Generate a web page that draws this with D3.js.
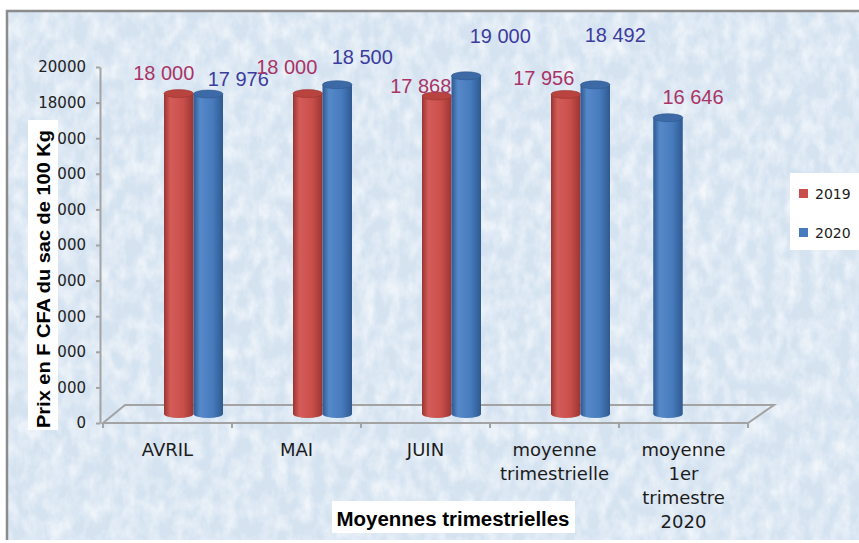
<!DOCTYPE html>
<html>
<head>
<meta charset="utf-8">
<script src="https://cdn.jsdelivr.net/npm/d3@7"></script>
<style>
  html, body { margin: 0; padding: 0; background: #fff; }
  svg { display: block; }
</style>
</head>
<body>
<div id="chart"></div>
<script>
// data
const categories = ["AVRIL", "MAI", "JUIN", "moyenne\ntrimestrielle", "moyenne\n1er\ntrimestre\n2020"];
const seriesNames = ["2019", "2020"];
const values2019 = [18000, 18000, 17868, 17956, null];
const values2020 = [17976, 18500, 19000, 18492, 16646];
const yTicks = [0, 2000, 4000, 6000, 8000, 10000, 12000, 14000, 16000, 18000, 20000];

// where Excel's labels were dragged to, relative to the top of their bar
const labelNudge2019 = [[-15, -14], [-21, -20], [-16, -3], [-22, -9], null];
const labelNudge2020 = [[30, -8], [25, -21], [34, -33], [20, -43], [25, -14]];

const W = 859, H = 543;
const depth = { dx: 22, dy: -18 };
const barW = 29.5, ry = 4;

const colors = {
  "2019": { base: "#c94f4b", dark: "#9a3532", light: "#d45c58", top: "#b8433f", label: "#a93466" },
  "2020": { base: "#477bbd", dark: "#2f5990", light: "#5689c9", top: "#3d6aa6", label: "#3c3c9e" }
};

const fmt = d3.formatLocale({ decimal: ",", thousands: " ", grouping: [3], currency: ["", ""] }).format(",");

const svg = d3.select("#chart").append("svg")
  .attr("width", W).attr("height", H);

const defs = svg.append("defs");

// mottled paper look of the chart background
const mottle = defs.append("filter").attr("id", "mottle")
  .attr("x", 0).attr("y", 0).attr("width", "100%").attr("height", "100%");
mottle.append("feTurbulence").attr("type", "fractalNoise")
  .attr("baseFrequency", "0.08 0.05").attr("numOctaves", 4).attr("seed", 11);
mottle.append("feColorMatrix").attr("type", "matrix")
  .attr("values", "0 0 0 0 1  0 0 0 0 1  0 0 0 0 1  1.6 0 0 0 -0.55");

seriesNames.forEach((s) => {
  const g = defs.append("linearGradient").attr("id", "cyl" + s)
    .attr("x1", 0).attr("x2", 1).attr("y1", 0).attr("y2", 0);
  g.append("stop").attr("offset", "0%").attr("stop-color", colors[s].dark);
  g.append("stop").attr("offset", "22%").attr("stop-color", colors[s].light);
  g.append("stop").attr("offset", "65%").attr("stop-color", colors[s].base);
  g.append("stop").attr("offset", "100%").attr("stop-color", colors[s].dark);
});

// background panel
svg.append("rect").attr("x", 7).attr("y", 11).attr("width", W).attr("height", 529)
  .attr("fill", "#d5e3f1");
svg.append("rect").attr("x", 7).attr("y", 11).attr("width", W).attr("height", 529)
  .attr("fill", "#fff").attr("filter", "url(#mottle)").attr("opacity", 0.75);
svg.append("path")
  .attr("d", `M7,540 V11 H${W}`)
  .attr("fill", "none").attr("stroke", "#8c8c8c").attr("stroke-width", 2.5);

// scales
const x = d3.scaleBand().domain(d3.range(categories.length)).range([103, 748]).padding(0);
const y = d3.scaleLinear().domain([0, 20000]).range([423, 67]);

// floor
const fx0 = x.range()[0], fx1 = x.range()[1], fy = y(0);
svg.append("path")
  .attr("d", `M${fx0},${fy} L${fx0 + depth.dx},${fy + depth.dy} L${fx1 + depth.dx + 4},${fy + depth.dy} L${fx1},${fy} Z`)
  .attr("fill", "none").attr("stroke", "#a3a3a3").attr("stroke-width", 2);

// category boundary ticks
svg.append("g").selectAll("line")
  .data(d3.range(categories.length + 1))
  .join("line")
  .attr("x1", (i) => fx0 + i * x.step())
  .attr("x2", (i) => fx0 + i * x.step())
  .attr("y1", fy).attr("y2", fy + 5)
  .attr("stroke", "#a3a3a3").attr("stroke-width", 2);

// y axis
const yAxis = svg.append("g")
  .attr("transform", "translate(100,0)")
  .call(d3.axisLeft(y).tickValues(yTicks).tickSizeInner(4).tickSizeOuter(0).tickPadding(10).tickFormat(d3.format("d")));
yAxis.select(".domain").attr("stroke", "#a3a3a3").attr("stroke-width", 2);
yAxis.selectAll(".tick line").attr("stroke", "#a3a3a3").attr("stroke-width", 2);
yAxis.selectAll(".tick text")
  .attr("fill", "#222")
  .style("font-family", "'DejaVu Sans', sans-serif")
  .style("font-size", "15px");

// bars
const bars = [];
categories.forEach((c, i) => {
  const vals = [values2019[i], values2020[i]];
  const present = seriesNames.filter((s, k) => vals[k] != null);
  const pair = present.length === 2;
  const center = x(i) + x.bandwidth() / 2 + (pair ? 26 : -15.5);
  present.forEach((s, k) => {
    const v = s === "2019" ? values2019[i] : values2020[i];
    const nudge = s === "2019" ? labelNudge2019[i] : labelNudge2020[i];
    const x0 = center - (present.length * barW) / 2 + k * barW;
    bars.push({ cat: i, series: s, value: v, x0, nudge, lone: !pair });
  });
});

const shift = depth.dy / 2; // bars stand halfway back on the floor
const barG = svg.append("g");
const cyl = barG.selectAll("g").data(bars).join("g");
cyl.append("path")
  .attr("d", (d) => {
    const yt = y(d.value) + shift, yb = y(0) + shift;
    return `M${d.x0},${yt} L${d.x0},${yb} A${barW / 2},${ry} 0 0 0 ${d.x0 + barW},${yb} L${d.x0 + barW},${yt} Z`;
  })
  .attr("fill", (d) => `url(#cyl${d.series})`);
cyl.append("ellipse")
  .attr("cx", (d) => d.x0 + barW / 2)
  .attr("cy", (d) => y(d.value) + shift)
  .attr("rx", barW / 2).attr("ry", ry)
  .attr("fill", (d) => colors[d.series].top)
  .attr("stroke", (d) => colors[d.series].dark).attr("stroke-width", 0.6);

// data labels
svg.append("g").selectAll("text")
  .data(bars)
  .join("text")
  .attr("x", (d) => d.x0 + barW / 2 + d.nudge[0])
  .attr("y", (d) => y(d.value) + shift + d.nudge[1])
  .attr("text-anchor", "middle")
  .attr("fill", (d) => d.lone ? colors["2019"].label : colors[d.series].label)
  .style("font-family", "'Liberation Sans', Arial, sans-serif")
  .style("font-size", "20px")
  .text((d) => fmt(d.value));

// category labels
const catG = svg.append("g").selectAll("text")
  .data(categories)
  .join("text")
  .attr("text-anchor", "middle")
  .attr("fill", "#1c1c1c")
  .style("font-family", "'DejaVu Sans', sans-serif")
  .style("font-size", "18px");
catG.selectAll("tspan")
  .data((d, i) => d.split("\n").map((t) => ({ t, i })))
  .join("tspan")
  .attr("x", (d) => x(d.i) + x.bandwidth() / 2)
  .attr("y", (d, j) => 456 + j * 24)
  .text((d) => d.t);

// axis titles on white boxes
svg.append("rect").attr("x", 28).attr("y", 120).attr("width", 30).attr("height", 310).attr("fill", "#fff");
svg.append("text")
  .attr("transform", "translate(50,279) rotate(-90)")
  .attr("text-anchor", "middle")
  .attr("textLength", 298).attr("lengthAdjust", "spacingAndGlyphs")
  .attr("fill", "#000")
  .style("font-family", "'Liberation Sans', Arial, sans-serif")
  .style("font-weight", "bold")
  .style("font-size", "19px")
  .text("Prix en F CFA du sac de 100 Kg");

svg.append("rect").attr("x", 332).attr("y", 501).attr("width", 243).attr("height", 32).attr("fill", "#fff");
svg.append("text")
  .attr("x", 453).attr("y", 526)
  .attr("text-anchor", "middle")
  .attr("textLength", 233).attr("lengthAdjust", "spacingAndGlyphs")
  .attr("fill", "#000")
  .style("font-family", "'Liberation Sans', Arial, sans-serif")
  .style("font-weight", "bold")
  .style("font-size", "20px")
  .text("Moyennes trimestrielles");

// legend
const legend = svg.append("g").attr("transform", "translate(790,173)");
legend.append("rect").attr("width", 75).attr("height", 77).attr("fill", "#fff");
const li = legend.selectAll("g").data(seriesNames).join("g")
  .attr("transform", (d, i) => `translate(9,${16 + i * 39})`);
li.append("rect").attr("width", 9).attr("height", 9).attr("fill", (d) => colors[d].base);
li.append("text").attr("x", 16).attr("y", 10)
  .attr("fill", "#1c1c1c")
  .style("font-family", "'DejaVu Sans', sans-serif")
  .style("font-size", "14px")
  .text((d) => d);
</script>
</body>
</html>
